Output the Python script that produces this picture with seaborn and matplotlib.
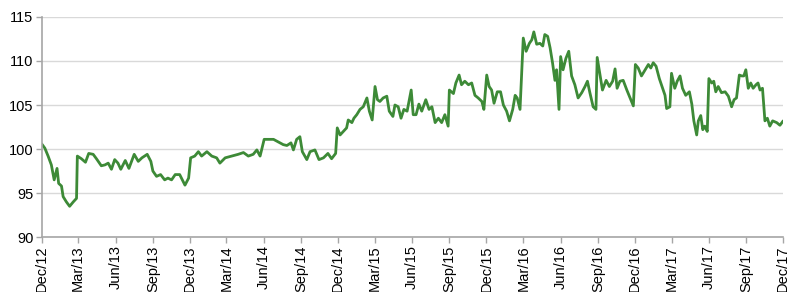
import numpy as np
import pandas as pd
import matplotlib
matplotlib.use("Agg")
import matplotlib.pyplot as plt
import matplotlib.dates as mdates
import seaborn as sns

start_date = "2012-12-01"
day_offsets = [
    0, 8, 16, 24, 31, 38, 42, 49, 53, 61, 69, 78, 86, 88, 98, 108, 116, 127, 135, 147,
    156, 164, 172, 180, 188, 195, 206, 215, 228, 238, 247, 260, 269, 274, 283, 293, 303, 311, 320, 329,
    340, 353, 362, 367, 377, 386, 394, 407, 419, 431, 439, 452, 468, 484, 497, 509, 521, 530, 538, 548,
    558, 571, 583, 595, 604, 614, 620, 628, 636, 642, 653, 661, 673, 683, 694, 705, 714, 724, 728, 735,
    743, 751, 755, 764, 769, 776, 784, 792, 801, 807, 814, 821, 827, 833, 841, 850, 856, 865, 870, 878,
    885, 892, 900, 910, 915, 922, 929, 936, 946, 954, 961, 969, 977, 985, 993, 1001, 1004, 1014, 1020, 1028,
    1034, 1042, 1051, 1059, 1067, 1075, 1084, 1089, 1096, 1102, 1108, 1114, 1122, 1130, 1137, 1145, 1152, 1160, 1166, 1171,
    1178, 1186, 1193, 1201, 1207, 1212, 1219, 1227, 1234, 1239, 1246, 1252, 1258, 1264, 1268, 1274, 1278, 1284, 1291, 1298,
    1305, 1313, 1321, 1330, 1338, 1344, 1350, 1358, 1365, 1368, 1375, 1381, 1390, 1398, 1406, 1412, 1417, 1424, 1432, 1441,
    1449, 1457, 1462, 1469, 1477, 1486, 1494, 1500, 1506, 1513, 1521, 1529, 1535, 1539, 1547, 1551, 1559, 1565, 1572, 1578,
    1586, 1595, 1601, 1606, 1613, 1617, 1623, 1628, 1633, 1639, 1643, 1650, 1655, 1660, 1666, 1674, 1683, 1691, 1699, 1705,
    1711, 1718, 1724, 1729, 1734, 1740, 1746, 1752, 1759, 1764, 1769, 1775, 1781, 1787, 1793, 1800, 1810, 1818, 1826,
]
index_values = [
    100.6, 100.1, 99.2, 98.2, 96.5, 97.8, 96.1, 95.8, 94.6, 94.0, 93.5, 94.0, 94.4, 99.2, 98.9, 98.5, 99.5, 99.4, 98.9, 98.1,
    98.2, 98.4, 97.7, 98.8, 98.4, 97.7, 98.7, 97.8, 99.4, 98.6, 99.0, 99.4, 98.6, 97.5, 96.9, 97.1, 96.5, 96.7, 96.5, 97.1,
    97.1, 95.9, 96.7, 99.0, 99.2, 99.7, 99.2, 99.7, 99.2, 99.0, 98.4, 99.0, 99.2, 99.4, 99.6, 99.2, 99.4, 99.9, 99.2, 101.1,
    101.1, 101.1, 100.8, 100.5, 100.4, 100.7, 99.9, 101.1, 101.4, 99.7, 98.8, 99.7, 99.9, 98.8, 99.0, 99.5, 98.9, 99.5, 102.4, 101.6,
    102.0, 102.4, 103.3, 103.0, 103.5, 103.9, 104.5, 104.8, 105.8, 104.3, 103.3, 107.1, 105.6, 105.4, 105.8, 106.0, 104.3, 103.7, 105.0, 104.8,
    103.5, 104.5, 104.3, 106.7, 103.9, 103.9, 105.1, 104.3, 105.6, 104.5, 104.8, 103.0, 103.5, 103.0, 103.9, 102.6, 106.7, 106.3, 107.5, 108.4,
    107.3, 107.7, 107.3, 107.5, 106.1, 105.8, 105.4, 104.5, 108.4, 107.1, 106.7, 105.2, 106.5, 106.5, 105.0, 104.3, 103.2, 104.5, 106.1, 105.8,
    104.5, 112.6, 111.1, 112.0, 112.4, 113.3, 111.9, 112.0, 111.7, 113.0, 112.8, 111.5, 109.8, 107.8, 109.0, 104.5, 110.5, 109.0, 110.3, 111.1,
    108.3, 107.3, 105.8, 106.4, 107.1, 107.7, 106.4, 104.8, 104.5, 110.4, 108.4, 106.7, 107.8, 107.1, 107.7, 109.1, 106.9, 107.7, 107.8, 106.7,
    105.8, 104.9, 109.6, 109.2, 108.3, 109.0, 109.6, 109.2, 109.8, 109.4, 108.0, 106.9, 106.1, 104.6, 104.8, 108.6, 106.9, 107.7, 108.3, 106.9,
    106.1, 106.5, 105.1, 103.2, 101.6, 103.2, 103.8, 102.2, 102.6, 102.0, 108.0, 107.5, 107.7, 106.5, 107.1, 106.4, 106.5, 106.0, 104.8, 105.6,
    105.8, 108.4, 108.3, 108.3, 109.0, 106.9, 107.5, 106.9, 107.3, 107.5, 106.7, 106.9, 103.2, 103.5, 102.6, 103.2, 103.0, 102.7, 103.2,
]
y_ticks = [90, 95, 100, 105, 110, 115]
x_tick_start = "2012-12-01"
x_tick_end = "2017-12-01"

df = pd.DataFrame({
    "date": pd.Timestamp(start_date) + pd.to_timedelta(day_offsets, unit="D"),
    "value": index_values,
})

sns.set_theme(style="white")
plt.rcParams["font.family"] = ["Liberation Sans", "DejaVu Sans"]

fig = plt.figure(figsize=(8.0, 2.92), dpi=100)
ax = fig.add_axes([0.052, 0.188, 0.927, 0.754])

sns.lineplot(data=df, x="date", y="value", ax=ax, color="#3d8a37", linewidth=2.0)

ax.set_xlim(pd.Timestamp(x_tick_start), pd.Timestamp(x_tick_end))
ax.set_ylim(90, 115)
ax.set_yticks(y_ticks)
ax.set_xticks(pd.date_range(x_tick_start, x_tick_end, freq="3MS"))
ax.xaxis.set_major_formatter(mdates.DateFormatter("%b/%y"))
ax.set_xlabel("")
ax.set_ylabel("")

ax.yaxis.grid(True, color="#d9d9d9", linewidth=1)
ax.xaxis.grid(False)
ax.set_axisbelow(True)
for s in ["top", "right"]:
    ax.spines[s].set_visible(False)
for s in ["left", "bottom"]:
    ax.spines[s].set_color("#a6a6a6")
    ax.spines[s].set_linewidth(1.2)
ax.tick_params(axis="both", which="major", direction="out", length=4, width=1,
               color="#a6a6a6", labelsize=10.5, labelcolor="#000000", pad=2)
ax.tick_params(axis="x", labelrotation=90)
ax.tick_params(left=True, bottom=True)

fig.savefig("out.png", dpi=100, facecolor="white")
